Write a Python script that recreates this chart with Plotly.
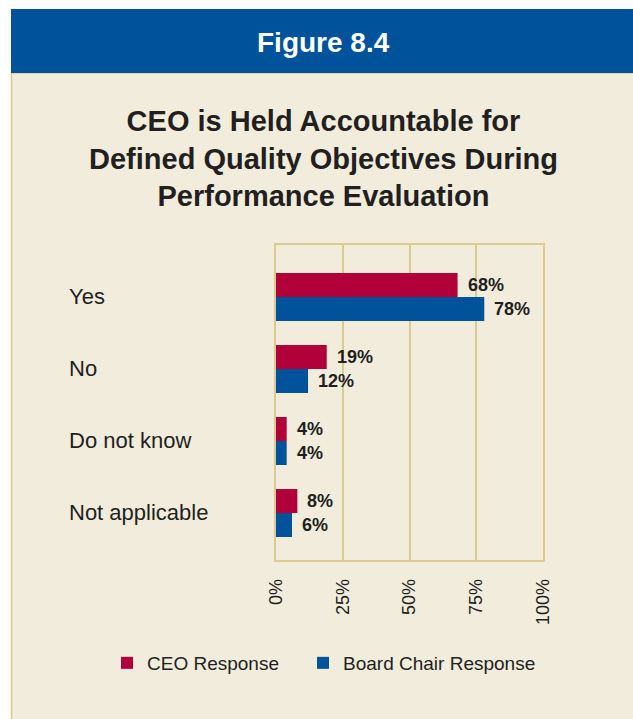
import plotly.graph_objects as go

categories = ["Yes", "No", "Do not know", "Not applicable"]
ceo_response = [68, 19, 4, 8]
board_chair_response = [78, 12, 4, 6]
tick_values = [0, 25, 50, 75, 100]
tick_labels = ["0%", "25%", "50%", "75%", "100%"]

W, H = 633, 719
L, R, T, B = 276, 90, 245, 159
PW, PH = W - L - R, H - T - B

RED = "#b1003a"
BLUE = "#00529b"
CREAM = "#f1ecdc"
TAN = "#dccb8e"
INK = "#231f20"
FONT = "Liberation Sans, Arial, sans-serif"


def px_x(x):
    return (x - L) / PW


def px_y(y):
    return (H - B - y) / PH


fig = go.Figure()
fig.add_bar(y=categories, x=ceo_response, name="CEO Response", orientation="h",
            marker=dict(color=RED, line=dict(width=0)), legend="legend")
fig.add_bar(y=categories, x=board_chair_response, name="Board Chair Response",
            orientation="h", marker=dict(color=BLUE, line=dict(width=0)),
            legend="legend2")

annotations = []
# value labels next to each bar
for vals, shift in ((ceo_response, 12), (board_chair_response, -12)):
    for cat, v in zip(categories, vals):
        annotations.append(dict(
            x=v, y=cat, xref="x", yref="y", text=f"<b>{v}%</b>", showarrow=False,
            xanchor="left", yanchor="middle", xshift=8, yshift=shift,
            font=dict(family=FONT, size=18, color=INK)))
# category labels, left aligned
for cat in categories:
    annotations.append(dict(
        x=px_x(67), y=cat, xref="paper", yref="y", text=cat, showarrow=False,
        xanchor="left", yanchor="middle", font=dict(family=FONT, size=22, color=INK)))
annotations.append(dict(
    x=px_x(323), y=px_y(42), xref="paper", yref="paper", text="<b>Figure 8.4</b>",
    showarrow=False, xanchor="center", yanchor="middle",
    font=dict(family=FONT, size=28, color="white")))
annotations.append(dict(
    x=px_x(323), y=px_y(158), xref="paper", yref="paper",
    text="<b>CEO is Held Accountable for<br>Defined Quality Objectives During"
         "<br>Performance Evaluation</b>",
    showarrow=False, xanchor="center", yanchor="middle",
    font=dict(family=FONT, size=29, color=INK)))

shapes = [
    dict(type="rect", xref="paper", yref="paper", layer="below",
         x0=px_x(11.5), x1=px_x(700), y0=px_y(73), y1=px_y(800),
         fillcolor=CREAM, line=dict(color=TAN, width=1.5)),
    dict(type="rect", xref="paper", yref="paper", layer="below",
         x0=px_x(11), x1=px_x(700), y0=px_y(73), y1=px_y(9),
         fillcolor=BLUE, line=dict(width=0)),
]

legend_style = dict(orientation="h", y=px_y(663), xanchor="left", yanchor="middle",
                    bgcolor="rgba(0,0,0,0)",
                    font=dict(family=FONT, size=19, color=INK))

fig.update_layout(
    width=W, height=H,
    margin=dict(l=L, r=R, t=T, b=B),
    paper_bgcolor="white",
    plot_bgcolor="rgba(0,0,0,0)",
    barmode="group",
    bargap=0.333,
    bargroupgap=0,
    font=dict(family=FONT, color=INK),
    annotations=annotations,
    shapes=shapes,
    showlegend=True,
    legend=dict(x=px_x(107), **legend_style),
    legend2=dict(x=px_x(303), **legend_style),
    xaxis=dict(range=[0, 100], tickvals=tick_values, ticktext=tick_labels,
               tickangle=-90, showgrid=True, gridcolor=TAN, gridwidth=1.5,
               showline=True, linecolor=TAN, linewidth=1.5, mirror=True,
               zeroline=False, ticks="", ticklabelstandoff=10,
               tickfont=dict(family=FONT, size=18, color=INK), fixedrange=True),
    yaxis=dict(type="category", categoryorder="array", categoryarray=categories,
               range=[3.653, -0.722], showticklabels=False, showgrid=False,
               showline=True, linecolor=TAN, linewidth=1.5, mirror=True,
               zeroline=False, ticks="", fixedrange=True),
)

# drop the default page margin so the figure sits at the window origin
fig.write_html("out.html", config={"displayModeBar": False},
               post_script="document.body.style.margin = '0';")
